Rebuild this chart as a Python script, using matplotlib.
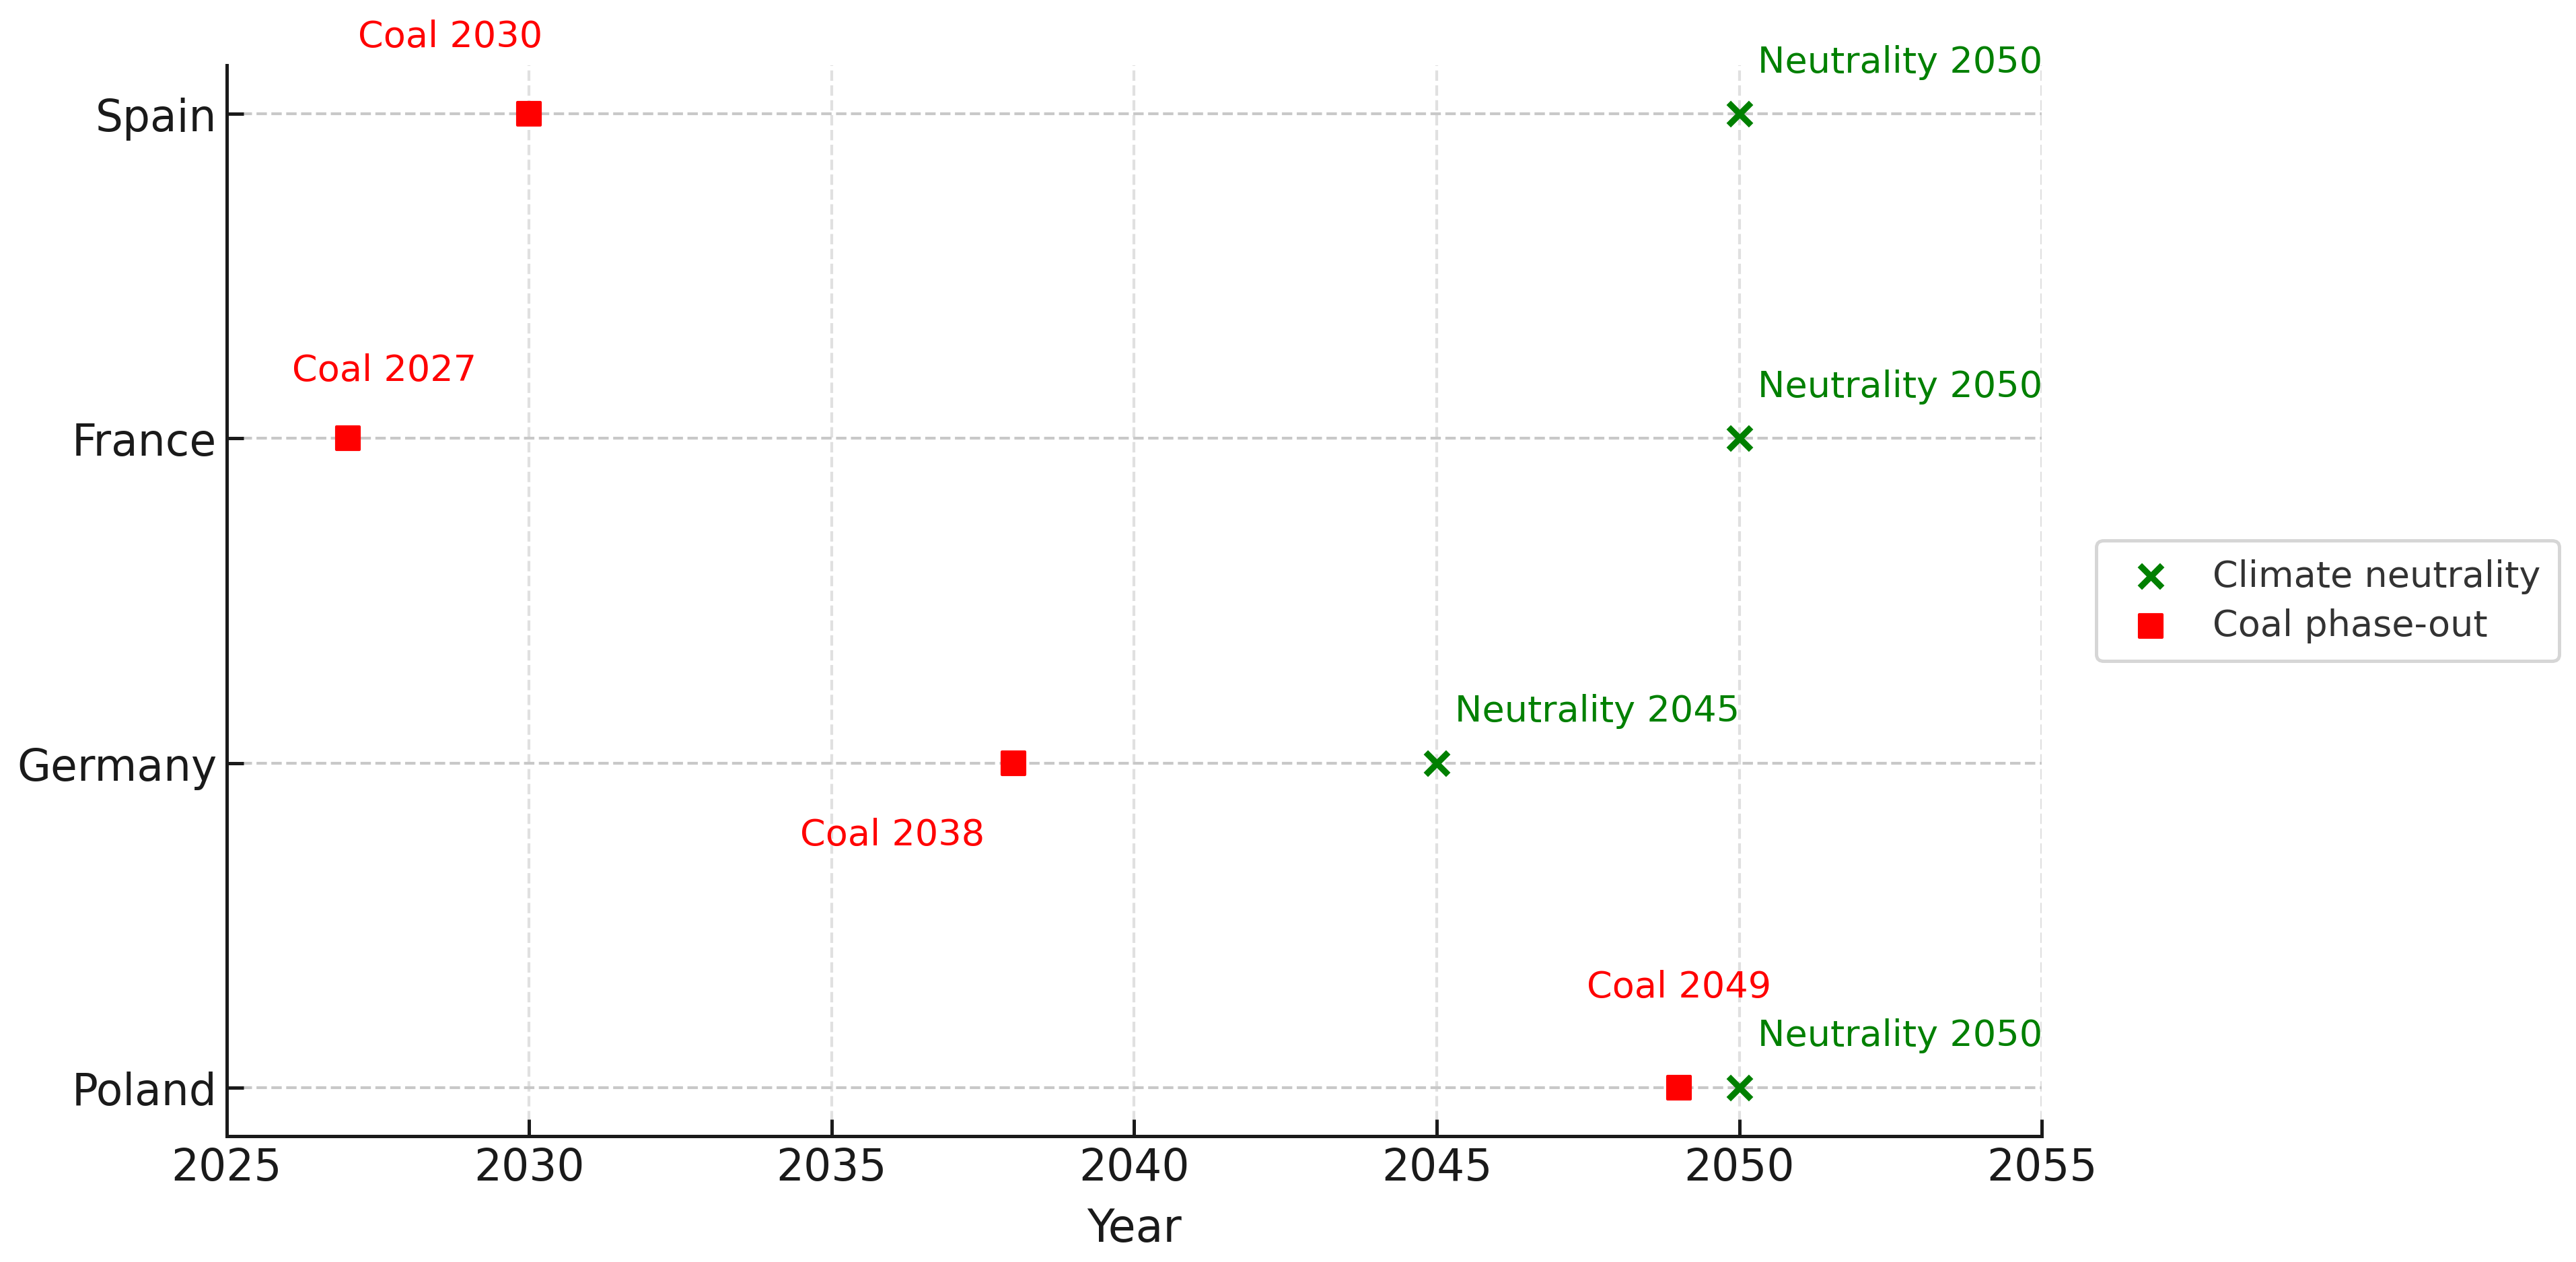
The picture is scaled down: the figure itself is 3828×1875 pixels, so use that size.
import matplotlib
matplotlib.use("Agg")
import matplotlib.pyplot as plt

# data
countries = ["Poland", "Germany", "France", "Spain"]
coal_years = [2049, 2038, 2027, 2030]
neutrality_years = [2050, 2045, 2050, 2050]

# label placement (x, y in data units) as seen in the reference
coal_label_pos = [(2049.0, 0.31), (2036.0, 0.78), (2027.6, 2.21), (2028.7, 3.24)]
neutral_label_pos = [(2050.3, 0.16), (2045.3, 1.16), (2050.3, 2.16), (2050.3, 3.16)]

y_positions = list(range(len(countries)))

fig = plt.figure(figsize=(12.76, 6.2533), dpi=300)
ax = fig.add_axes([0.088, 0.0997, 0.7046, 0.8481])

ax.scatter(neutrality_years, y_positions, marker="x", s=64, color="green",
           linewidths=2.2, label="Climate neutrality", zorder=3)
ax.scatter(coal_years, y_positions, marker="s", s=64, color="red",
           label="Coal phase-out", zorder=3)

for year, (tx, ty) in zip(coal_years, coal_label_pos):
    ax.text(tx, ty, f"Coal {year}", color="red", fontsize=13,
            ha="center", va="center")
for year, (tx, ty) in zip(neutrality_years, neutral_label_pos):
    ax.text(tx, ty, f"Neutrality {year}", color="green", fontsize=13,
            ha="left", va="center")

ax.set_xlim(2025, 2055)
ax.set_ylim(-0.15, 3.15)
ax.set_xticks(range(2025, 2056, 5))
ax.set_yticks(y_positions)
ax.set_yticklabels(countries)
ax.set_xlabel("Year", fontsize=16, color="#1a1a1a", labelpad=6)

ax.tick_params(axis="both", direction="in", labelsize=15.5, length=6,
               width=1.2, colors="#1a1a1a")
for side in ("top", "right"):
    ax.spines[side].set_visible(False)
for side in ("left", "bottom"):
    ax.spines[side].set_linewidth(1.2)
    ax.spines[side].set_color("#1a1a1a")

ax.grid(axis="y", linestyle="--", color="#c8c8c8", linewidth=1.0)
ax.grid(axis="x", linestyle="--", color="#e0e0e0", linewidth=1.0)
ax.set_axisbelow(True)

legend = ax.legend(loc="center left", bbox_to_anchor=(1.02, 0.5),
                   fontsize=13, frameon=True, fancybox=True,
                   handletextpad=0.7, borderpad=0.5, labelspacing=0.4)
legend.get_frame().set_edgecolor("#cccccc")
legend.get_frame().set_linewidth(1.2)
for txt in legend.get_texts():
    txt.set_color("#333333")

fig.savefig("out.png", dpi=300)
plt.close(fig)
